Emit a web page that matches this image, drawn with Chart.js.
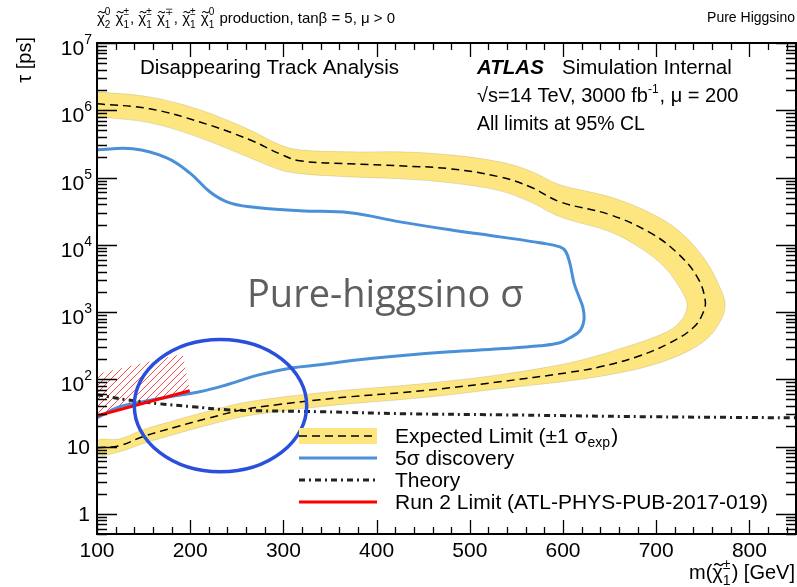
<!DOCTYPE html>
<html>
<head>
<meta charset="utf-8">
<script src="https://cdn.jsdelivr.net/npm/chart.js@4.4.0/dist/chart.umd.min.js"></script>
<style>
  html, body { margin: 0; padding: 0; background: #fff; }
</style>
</head>
<body>
<canvas id="grafica" width="797" height="587"></canvas>
<script>
// masas en GeV, vidas medias en ps

// limite esperado (linea discontinua), rama superior -> punta -> rama inferior
const esperadoMasa = [100, 156.6, 210.3, 263.9, 296.2, 317.6, 371.3, 425, 478.6, 532.3, 564.5, 596.7, 650.4, 693.4, 722.4, 743.9, 752.5, 750.3, 739.6, 714.9, 679.4, 639.7, 604.3, 532.3, 478.6, 425, 371.3, 339.1, 292.9, 256.4, 221, 185.6, 149.1, 124.4, 100];
const esperadoTau = [1.25e6, 1.05e6, 6.7e5, 3.64e5, 2.25e5, 1.77e5, 1.6e5, 1.49e5, 1.35e5, 1.02e5, 7.3e4, 4.35e4, 2.8e4, 1.51e4, 7.6e3, 3.34e3, 1.52e3, 973, 582, 349, 216, 153, 125, 91.8, 74.7, 63, 54.9, 49.5, 41.8, 35.2, 26.7, 19.7, 14.0, 10.3, 9.6];

// banda de +-1 sigma: borde exterior y luego borde interior (forma de C abierta en m = 100)
const bandaMasa = [100, 156.6, 210.3, 263.9, 296.2, 317.6, 371.3, 425, 478.6, 532.3, 564.5, 596.7, 650.4, 693.4, 725.6, 752.5, 768.6, 774, 769.7, 755.7, 731.1, 693.4, 650.4, 607.5, 532.3, 478.6, 425, 371.3, 339.1, 292.9, 256.4, 221, 185.6, 149.1, 124.4, 100,
                   100, 124.4, 149.1, 185.6, 221, 256.4, 292.9, 339.1, 371.3, 425, 478.6, 532.3, 596.7, 628.9, 661.1, 693.4, 717, 728.8, 733.1, 727.8, 709.5, 682.7, 650.4, 596.7, 564.5, 532.3, 478.6, 425, 371.3, 317.6, 296.2, 263.9, 210.3, 156.6, 100];
const bandaTau = [1.88e6, 1.58e6, 1.02e6, 5.12e5, 3.06e5, 2.58e5, 2.41e5, 2.41e5, 2.17e5, 1.71e5, 1.26e5, 7.8e4, 5.16e4, 2.99e4, 1.56e4, 5.97e3, 2.29e3, 1.28e3, 766, 414, 248, 159, 117, 94.9, 72.2, 58.8, 49.5, 43.2, 39, 32.9, 27.7, 21.1, 15.5, 11.0, 8.36, 7.54,
                  12.2, 13.0, 17.7, 25.0, 34, 44.7, 53.1, 63, 69.8, 80, 94.9, 117, 164, 209, 284, 400, 563, 820, 1280, 2000, 4540, 9.0e3, 1.56e4, 2.6e4, 4.35e4, 6.34e4, 8.34e4, 9.57e4, 1.02e5, 1.14e5, 1.30e5, 1.96e5, 3.89e5, 6.5e5, 8.0e5];

// descubrimiento a 5 sigma
const descMasa = [100, 138.3, 174.8, 199.5, 221, 239.3, 263.9, 317.6, 371.3, 425, 478.6, 532.3, 575.2, 596.7, 603, 607.5, 611.8, 617.2, 621.4, 622.5, 618.2, 607.5, 596.7, 575.2, 532.3, 478.6, 425, 371.3, 339.1, 310.1, 274.7, 239.3, 210.3, 178.1, 149.1, 124.4, 100];
const descTau = [2.58e5, 2.67e5, 1.96e5, 1.17e5, 6.13e4, 4.35e4, 3.67e4, 3.2e4, 2.99e4, 2.19e4, 1.67e4, 1.31e4, 1.07e4, 9.3e3, 7.9e3, 5.2e3, 2.72e3, 1.68e3, 1.16e3, 766, 526, 414, 349, 315, 284, 256, 223, 188, 164, 148, 117, 82.8, 65.2, 54.9, 46.2, 39, 26.7];

// prediccion teorica
const teoriaMasa = [100, 132, 167, 203, 239, 275, 339, 430, 532, 693, 850];
const teoriaTau = [58.8, 49.5, 43.2, 39, 35.2, 34, 32.9, 30.7, 29.6, 27.7, 26.7];

// limite de Run 2 y su zona rayada
const run2Masa = [100, 199.5];
const run2Tau = [28.6, 67.4];
const rayadoMasa = [100, 199.5, 192, 100];
const rayadoTau = [28.6, 67.4, 240, 120];

// elipse que resalta la zona de masa baja (extremos en masa y en tau)
const elipseMasa = [140, 325];
const elipseTau = [4.2, 390];

const xEtiquetas = [100, 200, 300, 400, 500, 600, 700, 800];
const yExponentes = [0, 1, 2, 3, 4, 5, 6, 7];

const FUENTE = '"Liberation Sans", Arial, Helvetica, sans-serif';

function puntos(xs, ys) {
    return xs.map((x, i) => ({ x: x, y: ys[i] }));
}

function patronRayado() {
    const c = document.createElement('canvas');
    c.width = 7; c.height = 7;
    const g = c.getContext('2d');
    g.strokeStyle = '#ff3a3a';
    g.lineWidth = 0.9;
    g.beginPath();
    g.moveTo(-1, 8); g.lineTo(8, -1);
    g.moveTo(-1, 1); g.lineTo(1, -1);
    g.moveTo(6, 8); g.lineTo(8, 6);
    g.stroke();
    return g.createPattern(c, 'repeat');
}

function fuente(s, estilo) {
    return (estilo ? estilo + ' ' : '') + s + 'px ' + FUENTE;
}

// texto compuesto: trozos normales, chi con tilde, y pares sub/superindice apilados
function anchoTrozo(ctx, r) {
    if (r.sup !== undefined || r.sub !== undefined) {
        ctx.font = fuente(r.s);
        return Math.max(ctx.measureText(r.sup || '').width, ctx.measureText(r.sub || '').width) + 1;
    }
    ctx.font = fuente(r.s, r.estilo);
    return ctx.measureText(r.t).width;
}

function escribir(ctx, trozos, x, y, alinear) {
    let total = 0;
    trozos.forEach(r => { total += anchoTrozo(ctx, r); });
    if (alinear === 'right') x -= total;
    if (alinear === 'center') x -= total / 2;
    ctx.textAlign = 'left';
    ctx.textBaseline = 'alphabetic';
    trozos.forEach(r => {
        const w = anchoTrozo(ctx, r);
        if (r.sup !== undefined || r.sub !== undefined) {
            ctx.font = fuente(r.s);
            if (r.sup) ctx.fillText(r.sup, x, y + r.arriba);
            if (r.sub) ctx.fillText(r.sub, x, y + r.abajo);
        } else {
            ctx.font = fuente(r.s, r.estilo);
            ctx.fillText(r.t, x, y + (r.dy || 0));
            if (r.tilde) {
                // tilde dibujada a mano sobre la chi
                const cx = x + w / 2 + r.s * 0.05, ty = y - r.s * 0.72, tw = r.s * 0.22;
                ctx.save();
                ctx.strokeStyle = ctx.fillStyle;
                ctx.lineWidth = Math.max(1, r.s * 0.07);
                ctx.beginPath();
                ctx.moveTo(cx - tw, ty + r.s * 0.04);
                ctx.quadraticCurveTo(cx - tw / 2, ty - r.s * 0.1, cx, ty);
                ctx.quadraticCurveTo(cx + tw / 2, ty + r.s * 0.1, cx + tw, ty - r.s * 0.04);
                ctx.stroke();
                ctx.restore();
            }
        }
        x += w;
    });
    return total;
}

function chi(sub, sup, s) {
    return [
        { t: 'χ', s: s, tilde: true },
        { sup: sup, sub: sub, s: Math.round(s * 0.68), arriba: -s * 0.52, abajo: s * 0.32 }
    ];
}

const ejesPlugin = {
    id: 'ejes',
    afterDatasetsDraw(chart) {
        const { ctx, scales: { x, y } } = chart;
        // elipse azul
        const x1 = x.getPixelForValue(elipseMasa[0]), x2 = x.getPixelForValue(elipseMasa[1]);
        const y1 = y.getPixelForValue(elipseTau[0]), y2 = y.getPixelForValue(elipseTau[1]);
        ctx.save();
        ctx.strokeStyle = '#2a4fdc';
        ctx.lineWidth = 3.5;
        ctx.beginPath();
        ctx.ellipse((x1 + x2) / 2, (y1 + y2) / 2, Math.abs(x2 - x1) / 2, Math.abs(y2 - y1) / 2, 0, 0, Math.PI * 2);
        ctx.stroke();
        ctx.restore();
    },
    afterDraw(chart) {
        const { ctx, chartArea: a, scales: { x, y } } = chart;
        ctx.save();
        ctx.strokeStyle = '#000';
        ctx.fillStyle = '#000';

        // marcas del eje x (abajo y arriba)
        ctx.lineWidth = 1.3;
        ctx.beginPath();
        for (let m = 100; m <= 850; m += 20) {
            const px = Math.round(x.getPixelForValue(m)) + 0.5;
            const largo = (m % 100 === 0) ? 14 : 7;
            ctx.moveTo(px, a.bottom); ctx.lineTo(px, a.bottom - largo);
            ctx.moveTo(px, a.top); ctx.lineTo(px, a.top + largo);
        }
        // marcas del eje y logaritmico (izquierda y derecha)
        for (let e = -1; e <= 7; e++) {
            for (let k = 1; k <= 9; k++) {
                const v = k * Math.pow(10, e);
                if (v < 0.5 || v > 1e7) continue;
                const py = Math.round(y.getPixelForValue(v)) + 0.5;
                const largo = (k === 1) ? 20 : 10;
                ctx.moveTo(a.left, py); ctx.lineTo(a.left + largo, py);
                ctx.moveTo(a.right, py); ctx.lineTo(a.right - largo, py);
            }
        }
        ctx.stroke();

        // marco
        ctx.lineWidth = 2;
        ctx.strokeRect(a.left, a.top, a.right - a.left, a.bottom - a.top);

        // etiquetas del eje x
        ctx.font = fuente(21);
        ctx.textAlign = 'center';
        ctx.textBaseline = 'alphabetic';
        xEtiquetas.forEach(m => {
            ctx.fillText(String(m), x.getPixelForValue(m), 557);
        });

        // etiquetas del eje y
        yExponentes.forEach(e => {
            const py = y.getPixelForValue(Math.pow(10, e));
            if (e === 0 || e === 1) {
                ctx.font = fuente(21);
                ctx.textAlign = 'right';
                ctx.fillText(e === 0 ? '1' : '10', 90, py + 7.5);
            } else {
                ctx.font = fuente(14);
                ctx.textAlign = 'right';
                ctx.fillText(String(e), 92, py + 1);
                const ws = ctx.measureText(String(e)).width;
                ctx.font = fuente(21);
                ctx.fillText('10', 92 - ws, py + 12);
            }
        });

        // titulos de ejes
        ctx.save();
        ctx.translate(31, 37);
        ctx.rotate(-Math.PI / 2);
        ctx.font = fuente(20);
        ctx.textAlign = 'right';
        ctx.fillText('τ [ps]', 0, 0);
        ctx.restore();

        escribir(ctx, [{ t: 'm(', s: 20 }].concat(chi('1', '±', 20), [{ t: ') [GeV]', s: 20 }]), 795, 579, 'right');

        // cabecera
        const h = 15;
        escribir(ctx, [].concat(
            chi('2', '0', h), [{ t: ' ', s: h }],
            chi('1', '±', h), [{ t: ', ', s: h }],
            chi('1', '±', h), [{ t: ' ', s: h }],
            chi('1', '∓', h), [{ t: ', ', s: h }],
            chi('1', '±', h), [{ t: ' ', s: h }],
            chi('1', '0', h), [{ t: ' production, tanβ = 5, μ > 0', s: h }]
        ), 97, 23, 'left');
        escribir(ctx, [{ t: 'Pure Higgsino', s: 14 }], 795, 22, 'right');

        // textos dentro del marco
        escribir(ctx, [{ t: 'Disappearing Track Analysis', s: 20.5 }], 140, 74, 'left');
        escribir(ctx, [{ t: 'ATLAS', s: 20.5, estilo: 'italic bold' }], 477, 74, 'left');
        escribir(ctx, [{ t: 'Simulation Internal', s: 20.5 }], 562, 74, 'left');
        escribir(ctx, [{ t: '√s=14 TeV, 3000 fb', s: 20 }, { sup: '-1', s: 12, arriba: -9 }, { t: ', μ = 200', s: 20 }], 477, 102, 'left');
        escribir(ctx, [{ t: 'All limits at 95% CL', s: 19.5 }], 477, 130, 'left');

        ctx.fillStyle = '#5e5e5e';
        ctx.font = '38px "Open Sans", "Noto Sans", sans-serif';
        ctx.textAlign = 'left';
        ctx.fillText('Pure-higgsino σ', 247, 307);

        // leyenda
        const lx1 = 299, lx2 = 377, tx = 395;
        const filas = [436, 458, 480, 502];
        ctx.fillStyle = '#fde680';
        ctx.fillRect(lx1, filas[0] - 8, lx2 - lx1, 16);
        ctx.lineWidth = 1.5;
        ctx.strokeStyle = '#000';
        ctx.setLineDash([8, 5]);
        ctx.beginPath(); ctx.moveTo(lx1, filas[0]); ctx.lineTo(lx2, filas[0]); ctx.stroke();
        ctx.lineWidth = 3;
        ctx.setLineDash([]);
        ctx.strokeStyle = '#4a90d9';
        ctx.beginPath(); ctx.moveTo(lx1, filas[1]); ctx.lineTo(lx2, filas[1]); ctx.stroke();
        ctx.strokeStyle = '#222';
        ctx.setLineDash([6, 4, 2, 4]);
        ctx.beginPath(); ctx.moveTo(lx1, filas[2]); ctx.lineTo(lx2, filas[2]); ctx.stroke();
        ctx.setLineDash([]);
        ctx.strokeStyle = '#ff0000';
        ctx.beginPath(); ctx.moveTo(lx1, filas[3]); ctx.lineTo(lx2, filas[3]); ctx.stroke();

        ctx.fillStyle = '#000';
        escribir(ctx, [{ t: 'Expected Limit (±1 σ', s: 21 }, { sub: 'exp', s: 14, abajo: 4 }, { t: ')', s: 21 }], tx, filas[0] + 7, 'left');
        escribir(ctx, [{ t: '5σ discovery', s: 21 }], tx, filas[1] + 7, 'left');
        escribir(ctx, [{ t: 'Theory', s: 21 }], tx, filas[2] + 7, 'left');
        escribir(ctx, [{ t: 'Run 2 Limit (ATL-PHYS-PUB-2017-019)', s: 21 }], tx, filas[3] + 7, 'left');

        ctx.restore();
    }
};

const ctx = document.getElementById('grafica').getContext('2d');

new Chart(ctx, {
    type: 'scatter',
    data: {
        datasets: [
            {
                label: 'Expected Limit (±1 σexp)',
                data: puntos(bandaMasa, bandaTau),
                showLine: true,
                fill: 'shape',
                backgroundColor: '#fde680',
                borderColor: 'rgba(0,0,0,0.10)',
                borderWidth: 1,
                tension: 0.35,
                pointRadius: 0,
                order: 10
            },
            {
                label: 'Run 2 (rayado)',
                data: puntos(rayadoMasa, rayadoTau),
                showLine: true,
                fill: 'shape',
                backgroundColor: patronRayado(),
                borderWidth: 0,
                tension: 0,
                pointRadius: 0,
                order: 9
            },
            {
                label: '5σ discovery',
                data: puntos(descMasa, descTau),
                showLine: true,
                fill: false,
                borderColor: '#4a90d9',
                borderWidth: 3,
                tension: 0.4,
                pointRadius: 0,
                order: 5
            },
            {
                label: 'Theory',
                data: puntos(teoriaMasa, teoriaTau),
                showLine: true,
                fill: false,
                borderColor: '#222',
                borderWidth: 3,
                borderDash: [6, 4, 2, 4],
                tension: 0.4,
                pointRadius: 0,
                order: 4
            },
            {
                label: 'Run 2 Limit',
                data: puntos(run2Masa, run2Tau),
                showLine: true,
                fill: false,
                borderColor: '#ff0000',
                borderWidth: 3,
                pointRadius: 0,
                order: 3
            },
            {
                label: 'Expected Limit',
                data: puntos(esperadoMasa, esperadoTau),
                showLine: true,
                fill: false,
                borderColor: '#000',
                borderWidth: 1.5,
                borderDash: [8, 5],
                tension: 0.4,
                pointRadius: 0,
                order: 2
            }
        ]
    },
    options: {
        responsive: false,
        devicePixelRatio: 1,
        animation: false,
        events: [],
        layout: { padding: { top: 43, right: 1, left: 0, bottom: 0 } },
        plugins: {
            legend: { display: false },
            tooltip: { enabled: false }
        },
        scales: {
            x: {
                type: 'linear',
                min: 100,
                max: 850,
                ticks: { display: false },
                grid: { display: false },
                border: { display: false },
                afterFit: s => { s.height = 53; }
            },
            y: {
                type: 'logarithmic',
                min: 0.5,
                max: 1e7,
                ticks: { display: false },
                grid: { display: false },
                border: { display: false },
                afterFit: s => { s.width = 97; }
            }
        }
    },
    plugins: [ejesPlugin]
});
</script>
</body>
</html>
